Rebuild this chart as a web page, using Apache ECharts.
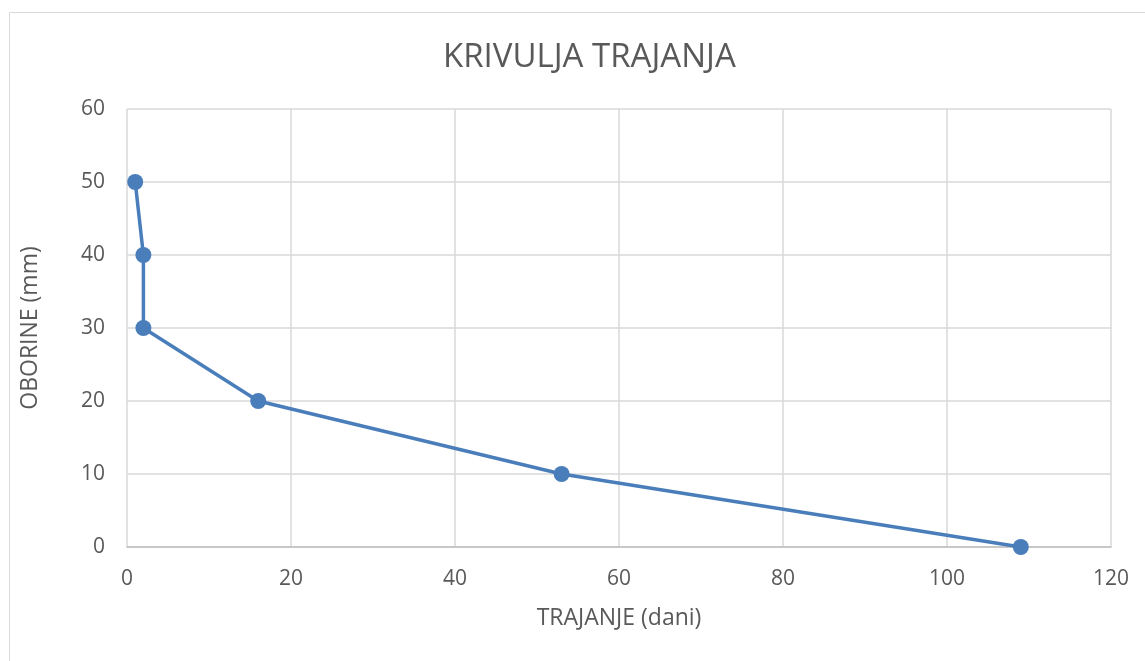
<!DOCTYPE html>
<html>
<head>
<meta charset="utf-8">
<script src="https://cdn.jsdelivr.net/npm/echarts@6/dist/echarts.min.js"></script>
<style>
html, body { margin: 0; padding: 0; background: #fff; }
#main { width: 1145px; height: 661px; }
</style>
</head>
<body>
<div id="main"></div>
<script>
// trajanje (dani) i oborine (mm)
var trajanje = [1, 2, 2, 16, 53, 109]
var oborine = [50, 40, 30, 20, 10, 0]

var points = []
for (var i = 0; i < trajanje.length; i++) {
    points.push([trajanje[i], oborine[i]])
}

var mCharts = echarts.init(document.getElementById("main"))
var txt = '#595959'
var font = '"Open Sans", "Liberation Sans", sans-serif'
var option = {
    animation: false,
    backgroundColor: '#fff',
    graphic: [{
        type: 'rect',
        left: 7, top: 10,
        shape: { width: 1200, height: 700 },
        style: { fill: 'none', stroke: '#d9d9d9', lineWidth: 1 }
    }],
    title: {
        text: 'KRIVULJA TRAJANJA',
        left: 438,
        top: 36,
        textStyle: { color: txt, fontSize: 33, fontWeight: 'normal', fontFamily: font }
    },
    grid: { left: 127, right: 34, top: 109, bottom: 114 },
    xAxis: {
        type: 'value',
        min: 0, max: 120, interval: 20,
        name: 'TRAJANJE (dani)',
        nameLocation: 'middle',
        nameGap: 60,
        nameTextStyle: { color: txt, fontSize: 23, fontFamily: font },
        axisLine: { show: true, lineStyle: { color: '#bfbfbf', width: 1.5 } },
        axisTick: { show: false },
        axisLabel: { color: txt, fontSize: 21, margin: 22, fontFamily: font },
        splitLine: { show: true, lineStyle: { color: '#d9d9d9', width: 1.5 } }
    },
    yAxis: {
        type: 'value',
        min: 0, max: 60, interval: 10,
        name: 'OBORINE (mm)',
        nameLocation: 'middle',
        nameGap: 85,
        nameTextStyle: { color: txt, fontSize: 23, fontFamily: font },
        axisLine: { show: false },
        axisTick: { show: false },
        axisLabel: { color: txt, fontSize: 21, margin: 22, fontFamily: font },
        splitLine: { show: true, lineStyle: { color: '#d9d9d9', width: 1.5 } }
    },
    series: [{
        type: 'line',
        data: points,
        symbol: 'circle',
        symbolSize: 16,
        itemStyle: { color: '#4a7ebb' },
        lineStyle: { color: '#4a7ebb', width: 3.5 }
    }]
}
mCharts.setOption(option)
</script>
</body>
</html>
